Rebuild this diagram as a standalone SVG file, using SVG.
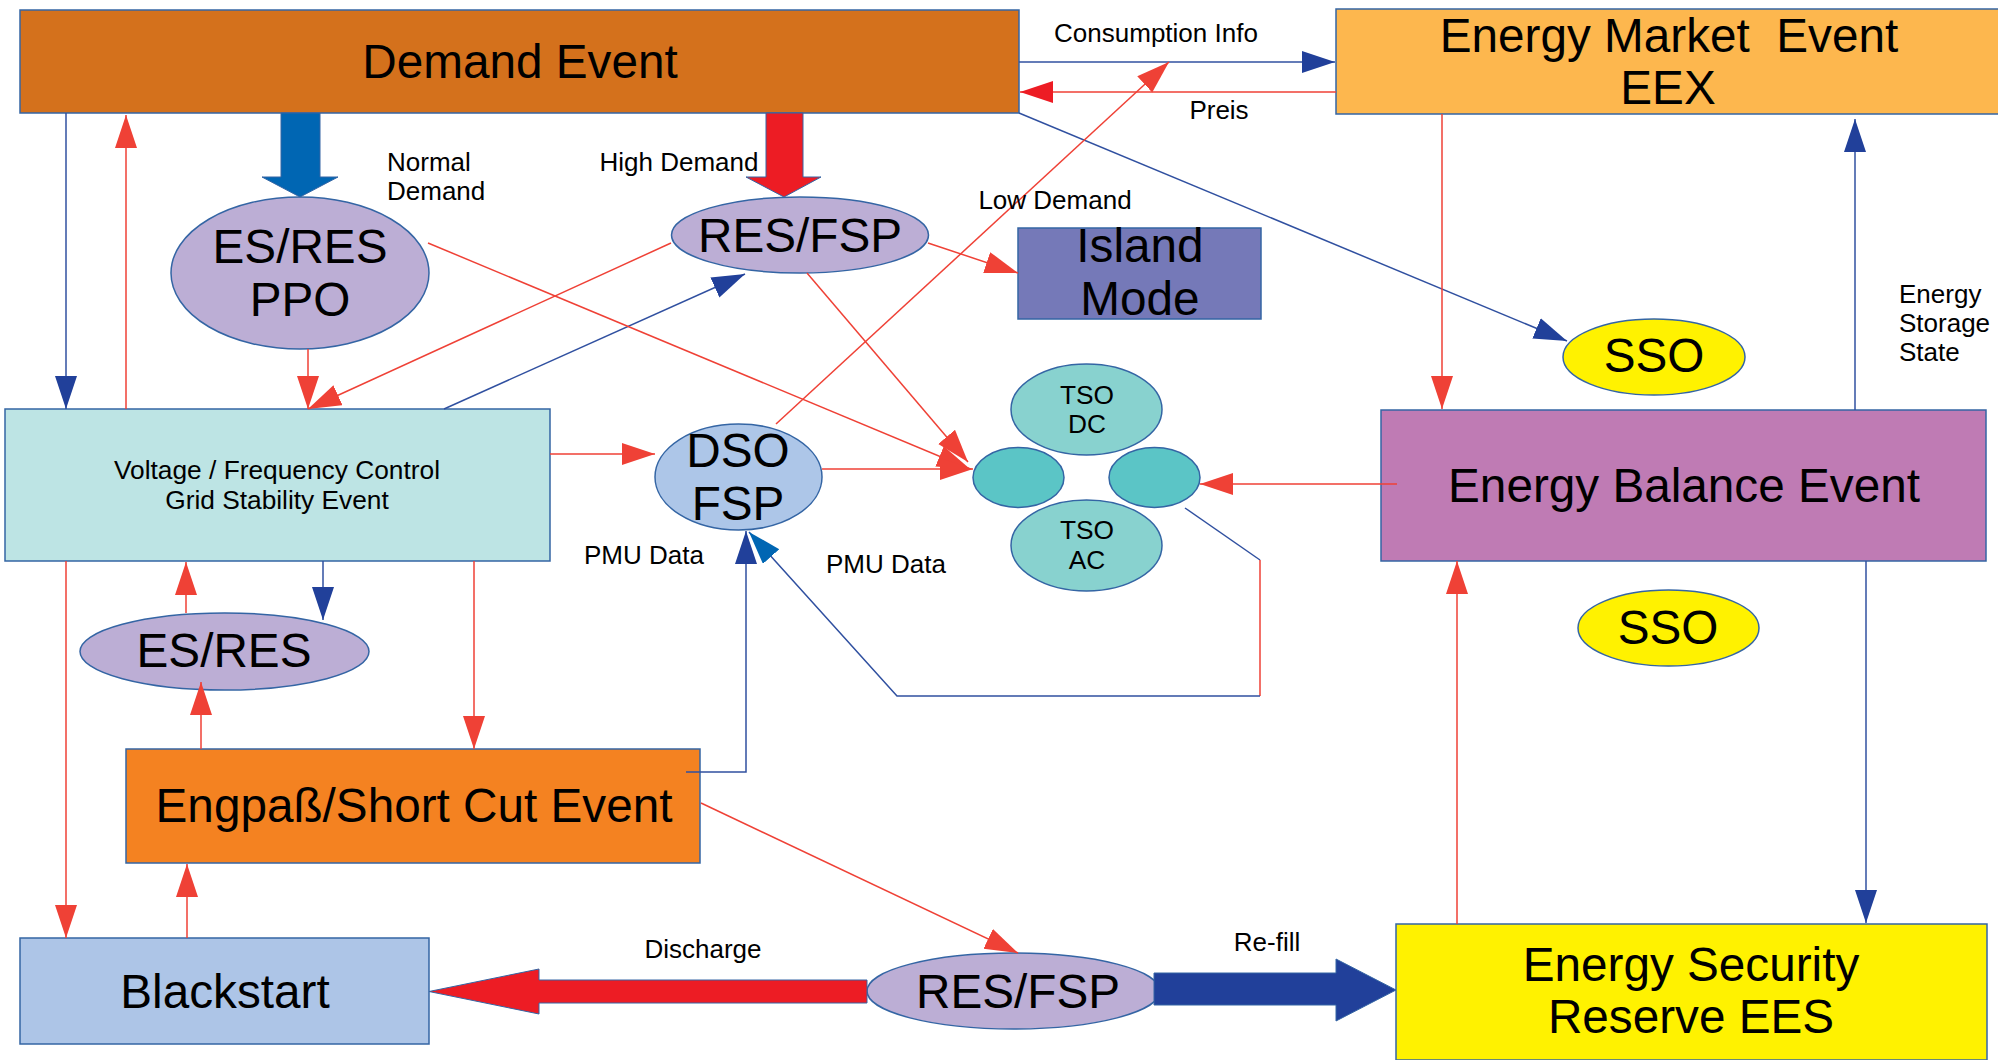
<svg xmlns="http://www.w3.org/2000/svg" width="1998" height="1060" viewBox="0 0 1998 1060">
<defs>
<style>
text{font-family:"Liberation Sans",Arial,sans-serif;fill:#000;text-anchor:middle;white-space:pre}
.big{font-size:47.7px}
.mid{font-size:26.3px}
.sm{font-size:26px}
.node{stroke:#3465a4;stroke-width:1.5}
.r{fill:none;stroke:#ef4136;stroke-width:1.5}
.b{fill:none;stroke:#3050a0;stroke-width:1.5}
</style>
<marker id="ar" markerUnits="userSpaceOnUse" markerWidth="34" markerHeight="24" refX="33" refY="11" orient="auto"><path d="M0,0 L33,11 L0,22 z" fill="#ef4136"/></marker>
<marker id="ar2" markerUnits="userSpaceOnUse" markerWidth="34" markerHeight="24" refX="33" refY="11" orient="auto"><path d="M0,0 L33,11 L0,22 z" fill="#ed1c24"/></marker>
<marker id="ab" markerUnits="userSpaceOnUse" markerWidth="34" markerHeight="24" refX="33" refY="11" orient="auto"><path d="M0,0 L33,11 L0,22 z" fill="#21409a"/></marker>
<marker id="al" markerUnits="userSpaceOnUse" markerWidth="34" markerHeight="24" refX="33" refY="11" orient="auto"><path d="M0,0 L33,11 L0,22 z" fill="#0066b3"/></marker>
</defs>
<rect width="1998" height="1060" fill="#fff"/>

<g id="demand"><rect class="node" x="20" y="10" width="999" height="103" fill="#d4711c"/><text class="big" x="520" y="78">Demand Event</text></g>
<g id="eex"><rect class="node" x="1336" y="9" width="665" height="105" fill="#fdb74e"/><text class="big" x="1669" y="52">Energy Market  Event</text><text class="big" x="1668" y="104">EEX</text></g>
<g id="es-res-ppo"><ellipse class="node" cx="300" cy="273" rx="129" ry="76" fill="#bcaed5"/><text class="big" x="300" y="263">ES/RES</text><text class="big" x="300" y="316">PPO</text></g>
<g id="res-fsp-top"><ellipse class="node" cx="800" cy="235" rx="128.5" ry="38" fill="#bcaed5"/><text class="big" x="800" y="252">RES/FSP</text></g>
<g id="island"><rect class="node" x="1018" y="228" width="243" height="91" fill="#7579b8"/><text class="big" x="1140" y="262">Island</text><text class="big" x="1140" y="315">Mode</text></g>
<g id="sso1"><ellipse class="node" cx="1654" cy="357" rx="91" ry="38" fill="#fff200"/><text class="big" x="1654" y="372">SSO</text></g>
<g id="balance"><rect class="node" x="1381" y="410" width="605" height="151" fill="#bf7bb4"/><text class="big" x="1684" y="502">Energy Balance Event</text></g>
<g id="voltage"><rect class="node" x="5" y="409" width="545" height="152" fill="#bde4e4"/><text class="mid" x="277" y="479">Voltage / Frequency Control</text><text class="mid" x="277" y="509">Grid Stability Event</text></g>
<g id="dso"><ellipse class="node" cx="738.5" cy="477" rx="83.5" ry="53" fill="#adc6e8"/><text class="big" x="738" y="467">DSO</text><text class="big" x="738" y="520">FSP</text></g>
<g id="tso-dc"><ellipse class="node" cx="1086.5" cy="409.5" rx="75.5" ry="45.5" fill="#88d2cf"/><text class="mid" x="1087" y="404">TSO</text><text class="mid" x="1087" y="433">DC</text></g>
<g id="tso-ac"><ellipse class="node" cx="1086.5" cy="545.5" rx="75.5" ry="45.5" fill="#88d2cf"/><text class="mid" x="1087" y="539">TSO</text><text class="mid" x="1087" y="569">AC</text></g>
<g id="tso-left"><ellipse class="node" cx="1018.5" cy="477.5" rx="45.5" ry="30" fill="#5bc5c6"/></g>
<g id="tso-right"><ellipse class="node" cx="1154.5" cy="477.5" rx="45.5" ry="30" fill="#5bc5c6"/></g>
<g id="es-res"><ellipse class="node" cx="224.5" cy="651.5" rx="144.5" ry="38.5" fill="#bcaed5"/><text class="big" x="224" y="667">ES/RES</text></g>
<g id="sso2"><ellipse class="node" cx="1668.5" cy="628" rx="90.5" ry="38" fill="#fff200"/><text class="big" x="1668" y="644">SSO</text></g>
<g id="engpass"><rect class="node" x="126" y="749" width="574" height="114" fill="#f48221"/><text class="big" x="414" y="822">Engpaß/Short Cut Event</text></g>
<g id="blackstart"><rect class="node" x="20" y="938" width="409" height="106" fill="#adc5e7"/><text class="big" x="225" y="1008">Blackstart</text></g>
<g id="res-fsp-bottom"><ellipse class="node" cx="1013.5" cy="991" rx="146.5" ry="38" fill="#bcaed5"/><text class="big" x="1018" y="1008">RES/FSP</text></g>
<g id="ees"><rect class="node" x="1396" y="924" width="591" height="136" fill="#fff200"/><text class="big" x="1691" y="981">Energy Security</text><text class="big" x="1691" y="1033">Reserve EES</text></g>

<g id="connectors">
<path class="b" d="M66,113 V409" marker-end="url(#ab)"/>
<path class="r" d="M126,409 V115" marker-end="url(#ar)"/>
<polygon points="281,113 320,113 320,177 338,177 300,197 262,177 281,177" fill="#0066b3" stroke="#3465a4" stroke-width="1"/>
<polygon points="766,113 803,113 803,177 821,177 784,197 746,177 766,177" fill="#ed1c24" stroke="#3465a4" stroke-width="1"/>
<path class="b" d="M1019,62 H1335" marker-end="url(#ab)"/>
<path class="r" d="M1336,92 H1020" marker-end="url(#ar2)"/>
<path class="b" d="M1019,113 L1567,341" marker-end="url(#ab)"/>
<path class="r" d="M1442,114 V409" marker-end="url(#ar)"/>
<path class="b" d="M1855,410 V119" marker-end="url(#ab)"/>
<path class="r" d="M308,349 V409" marker-end="url(#ar)"/>
<path class="r" d="M671,243 L308,409" marker-end="url(#ar)"/>
<path class="b" d="M444,409 L745,274" marker-end="url(#ab)"/>
<path class="r" d="M928,243 L1018,273" marker-end="url(#ar)"/>
<path class="r" d="M428,243 L970,469" marker-end="url(#ar)"/>
<path class="r" d="M807,273 L968,462" marker-end="url(#ar)"/>
<path class="r" d="M822,469 H973" marker-end="url(#ar)"/>
<path class="r" d="M776,424 L1169,62" marker-end="url(#ar)"/>
<path class="r" d="M550,454 H655" marker-end="url(#ar)"/>
<path class="r" d="M1397,484 H1200" marker-end="url(#ar)"/>
<path class="b" d="M1185,508 L1260,560"/>
<path class="r" d="M1260,560 V696"/>
<path class="b" d="M1260,696 H897 L749,532" stroke="#1f63b5" marker-end="url(#al)"/>
<path class="b" d="M686,772 H746 V531" marker-end="url(#ab)"/>
<path class="r" d="M186,613 V562" marker-end="url(#ar)"/>
<path class="b" d="M323,561 V620" marker-end="url(#ab)"/>
<path class="r" d="M201,749 V682" marker-end="url(#ar)"/>
<path class="r" d="M474,561 V749" marker-end="url(#ar)"/>
<path class="r" d="M66,561 V938" marker-end="url(#ar)"/>
<path class="r" d="M187,938 V864" marker-end="url(#ar)"/>
<path class="r" d="M701,803 L1018,953" marker-end="url(#ar)"/>
<polygon points="867,980 539,980 539,969 429,991.5 539,1014 539,1003 867,1003" fill="#ed1c24" stroke="#3465a4" stroke-width="1"/>
<polygon points="1154,973 1336,973 1336,959 1396,990 1336,1021 1336,1005 1154,1005" fill="#21409a" stroke="#3465a4" stroke-width="1"/>
<path class="r" d="M1457,924 V561" marker-end="url(#ar)"/>
<path class="b" d="M1866,561 V923" marker-end="url(#ab)"/>
</g>

<g id="labels">
<text class="sm" x="1156" y="42">Consumption Info</text>
<text class="sm" x="1219" y="119">Preis</text>
<text class="sm" x="387" y="171" style="text-anchor:start">Normal</text>
<text class="sm" x="387" y="200" style="text-anchor:start">Demand</text>
<text class="sm" x="679" y="171">High Demand</text>
<text class="sm" x="1055" y="209">Low Demand</text>
<text class="sm" x="1899" y="303" style="text-anchor:start">Energy</text>
<text class="sm" x="1899" y="332" style="text-anchor:start">Storage</text>
<text class="sm" x="1899" y="361" style="text-anchor:start">State</text>
<text class="sm" x="644" y="564">PMU Data</text>
<text class="sm" x="886" y="573">PMU Data</text>
<text class="sm" x="703" y="958">Discharge</text>
<text class="sm" x="1267" y="951">Re-fill</text>
</g>
</svg>
